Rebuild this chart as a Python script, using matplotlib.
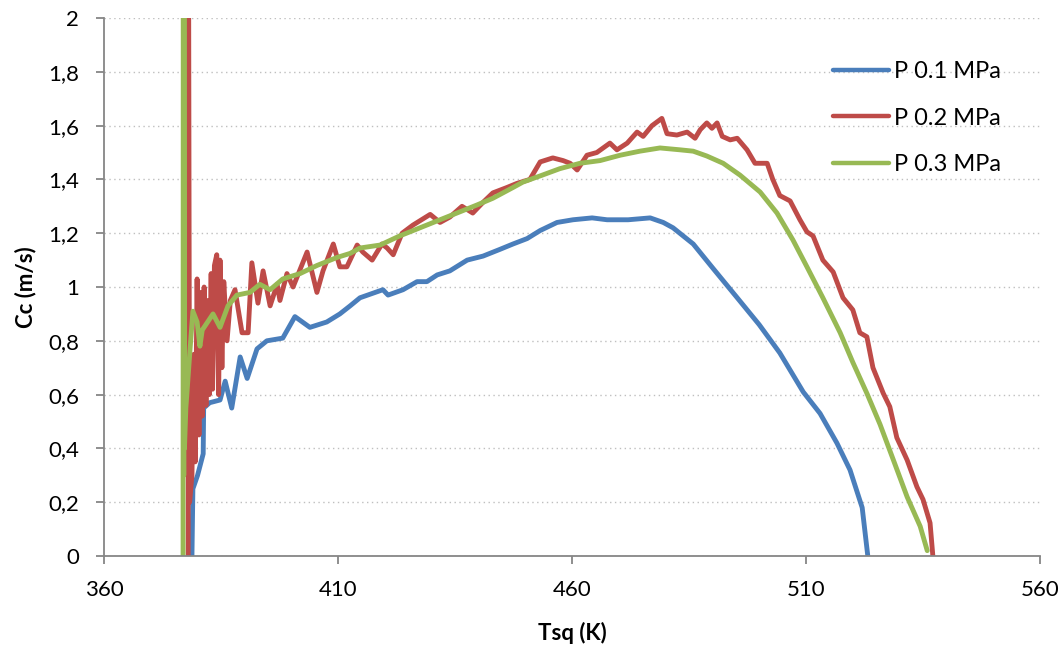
import matplotlib
matplotlib.use("Agg")
import matplotlib.pyplot as plt
from matplotlib.ticker import FuncFormatter, MultipleLocator

# ---- data ----
t_01 = [378.8, 379.0, 380.0, 381.2, 381.3, 382.6, 384.8, 385.9, 387.3, 389.1, 390.6, 392.7,
        394.8, 398.2, 400.8, 404.0, 407.6, 410.4, 412.6, 414.7, 419.6, 420.7, 423.9, 426.9,
        429.0, 431.2, 433.9, 437.6, 441.0, 444.6, 447.4, 450.4, 453.2, 456.8, 460.2, 464.3,
        467.5, 472.0, 476.7, 479.5, 481.6, 485.9, 490.1, 495.3, 500.0, 504.4, 509.4, 513.0,
        516.6, 519.4, 522.0, 523.2]
c_01 = [0.00, 0.25, 0.30, 0.38, 0.55, 0.57, 0.58, 0.65, 0.55, 0.74, 0.66, 0.77,
        0.80, 0.81, 0.89, 0.85, 0.87, 0.90, 0.93, 0.96, 0.99, 0.97, 0.99, 1.02,
        1.02, 1.045, 1.06, 1.10, 1.115, 1.14, 1.16, 1.18, 1.21, 1.24, 1.25, 1.257,
        1.25, 1.25, 1.257, 1.24, 1.22, 1.16, 1.07, 0.96, 0.86, 0.755, 0.61, 0.53,
        0.42, 0.32, 0.18, 0.00]

t_02 = [378.0, 378.05, 378.3, 378.8, 379.2, 379.5, 379.9, 380.3, 380.7, 381.0, 381.4, 381.8,
        382.1, 382.5, 382.9, 383.2, 383.6, 384.1, 384.5, 384.8, 385.2, 385.6, 386.3, 387.0,
        388.0, 389.5, 390.8, 391.6, 392.9, 394.0, 395.5, 397.0, 397.6, 399.1, 400.4, 403.4,
        405.5, 406.8, 409.0, 410.4, 411.9, 414.1, 415.3, 417.3, 419.4, 420.5, 421.8, 423.7,
        426.0, 429.7, 431.8, 433.9, 436.5, 438.8, 441.0, 443.1, 446.1, 448.2, 451.0, 453.2,
        455.9, 458.1, 459.6, 461.1, 463.2, 465.3, 468.1, 469.6, 471.8, 473.9, 475.2, 477.1,
        479.2, 480.3, 482.4, 484.6, 486.3, 487.4, 488.8, 489.9, 491.0, 492.1, 493.8, 495.3,
        497.4, 499.1, 501.7, 502.9, 504.4, 506.6, 508.7, 510.2, 511.5, 513.6, 515.8, 517.9,
        520.0, 521.5, 523.0, 524.3, 526.5, 527.9, 529.4, 531.6, 533.7, 535.0, 536.5, 537.1]
c_02 = [0.00, 2.50, 0.20, 0.30, 0.75, 0.35, 1.03, 0.45, 0.98, 0.52, 1.00, 0.56,
        0.95, 0.60, 1.05, 0.62, 1.08, 1.12, 0.60, 1.10, 0.70, 1.02, 0.80, 0.95,
        0.99, 0.83, 0.83, 1.09, 0.94, 1.06, 0.93, 1.01, 0.95, 1.05, 1.00, 1.13,
        0.98, 1.06, 1.16, 1.075, 1.075, 1.156, 1.13, 1.10, 1.16, 1.145, 1.12, 1.20,
        1.23, 1.27, 1.24, 1.26, 1.30, 1.275, 1.315, 1.35, 1.37, 1.385, 1.40, 1.465,
        1.48, 1.47, 1.46, 1.435, 1.49, 1.50, 1.535, 1.51, 1.535, 1.576, 1.56, 1.60,
        1.627, 1.57, 1.565, 1.576, 1.553, 1.585, 1.61, 1.59, 1.61, 1.56, 1.547, 1.553,
        1.51, 1.46, 1.46, 1.40, 1.34, 1.32, 1.25, 1.205, 1.19, 1.10, 1.056, 0.96,
        0.915, 0.83, 0.815, 0.70, 0.605, 0.555, 0.44, 0.357, 0.257, 0.21, 0.123, 0.00]

t_03 = [376.9, 376.95, 377.05, 377.1, 377.2, 377.5, 378.4, 379.0, 379.9, 380.5, 381.0, 383.3,
        384.8, 386.5, 388.4, 391.2, 393.3, 395.5, 398.2, 401.9, 405.5, 409.8, 412.6, 414.7,
        419.0, 423.2, 427.5, 431.8, 435.4, 439.7, 443.1, 447.4, 449.5, 453.5, 457.4, 461.7,
        466.0, 470.3, 474.5, 478.8, 483.1, 485.9, 488.8, 492.3, 495.9, 500.2, 503.8, 507.2,
        510.2, 513.6, 517.3, 520.0, 523.0, 525.8, 528.6, 531.6, 534.4, 535.9]
c_03 = [0.00, 2.50, 0.30, 2.50, 0.40, 0.55, 0.77, 0.91, 0.87, 0.78, 0.84, 0.90,
        0.85, 0.93, 0.97, 0.98, 1.01, 0.99, 1.03, 1.05, 1.08, 1.11, 1.125, 1.145,
        1.156, 1.19, 1.22, 1.25, 1.275, 1.305, 1.33, 1.37, 1.39, 1.415, 1.44, 1.46,
        1.47, 1.49, 1.505, 1.517, 1.51, 1.505, 1.487, 1.46, 1.416, 1.353, 1.275, 1.175,
        1.075, 0.96, 0.83, 0.72, 0.605, 0.49, 0.36, 0.22, 0.11, 0.02]

labels = ["P 0.1 MPa", "P 0.2 MPa", "P 0.3 MPa"]
colors = ["#4A7EBB", "#BE4B48", "#98B954"]
x_ticks = [360, 410, 460, 510, 560]

plt.rcParams['font.family'] = ['Lato', 'DejaVu Sans']

fig = plt.figure(figsize=(10.63, 6.46), dpi=100)
ax = fig.add_axes([0.0978, 0.1393, 0.8806, 0.8328])

kw = dict(lw=3.5, solid_capstyle='round', solid_joinstyle='round')
ax.plot(t_01, c_01, color=colors[0], label=labels[0], **kw)
ax.plot(t_02, c_02, color=colors[1], label=labels[1], **kw)
ax.plot(t_03, c_03, color=colors[2], label=labels[2], **kw)

ax.set_xlim(360, 560)
ax.set_ylim(0, 2)
ax.set_xticks(x_ticks)
ax.yaxis.set_major_locator(MultipleLocator(0.2))
ax.yaxis.set_major_formatter(FuncFormatter(lambda v, p: f"{round(v, 1):g}".replace('.', ',')))

ax.grid(axis='y', color='#BFBFBF', linestyle=(0, (1, 2.5)), linewidth=1.0)
ax.set_axisbelow(True)
for s in ['top', 'right']:
    ax.spines[s].set_visible(False)
for s in ['left', 'bottom']:
    ax.spines[s].set_color('#868686')
    ax.spines[s].set_linewidth(1.3)
ax.tick_params(axis='both', colors='#868686', labelcolor='black', labelsize=16, length=6, width=1.3)
ax.tick_params(axis='x', pad=11)
ax.tick_params(axis='y', pad=12)

ax.set_xlabel("Tsq (K)", fontsize=16, fontweight='bold', labelpad=16)
ax.set_ylabel("Cc (m/s)", fontsize=16, fontweight='bold', labelpad=8)

leg = ax.legend(loc='upper left', bbox_to_anchor=(0.779, 0.92), frameon=False, fontsize=17,
                handlelength=2.35, handletextpad=0.22, labelspacing=1.08,
                borderpad=0, borderaxespad=0)
for h in leg.get_lines():
    h.set_linewidth(3.2)

fig.savefig("out.png", dpi=100)
